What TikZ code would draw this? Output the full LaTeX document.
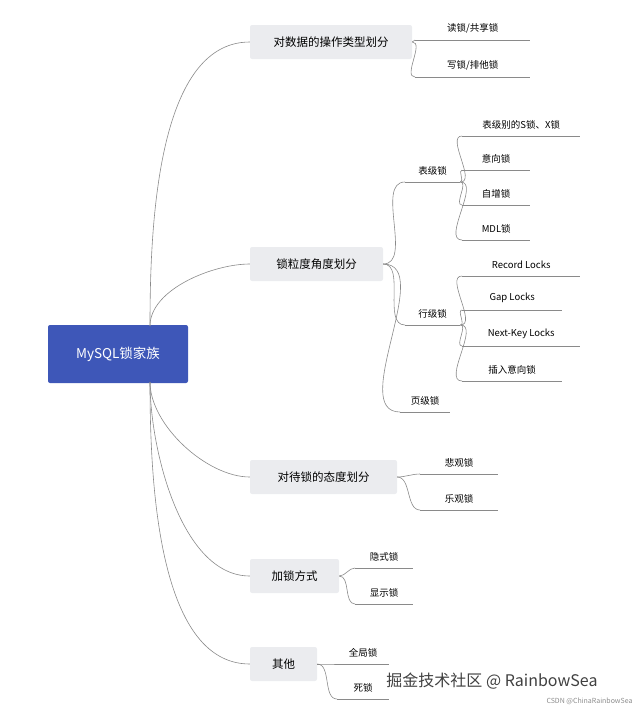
\documentclass[tikz,border=0pt]{standalone}
\usepackage{fontspec}
\setmainfont{Noto Sans CJK SC}
\usetikzlibrary{positioning}
\definecolor{rootblue}{HTML}{3E57B8}
\definecolor{boxgray}{HTML}{EBECEF}
\definecolor{linegray}{HTML}{8A8A8A}
\tikzset{
  root/.style={rounded corners=2pt, fill=rootblue, text=white, minimum width=140pt, minimum height=58pt, font=\fontsize{13.5}{15}\selectfont},
  topic/.style={rounded corners=2pt, fill=boxgray, minimum height=34pt, font=\fontsize{11.5}{13}\selectfont},
  leaf/.style={anchor=south west, inner xsep=1.5pt, inner ysep=7pt, font=\fontsize{9.5}{11}\selectfont,
    append after command={(\tikzlastnode.south west) edge[link] (\tikzlastnode.south east)}},
  link/.style={draw=linegray, line width=0.6pt},
}
\newcommand{\branch}[2]{\draw[link] (#1) to[out=0,in=180,looseness=0.9] (#2);}
\begin{document}
\begin{tikzpicture}[x=1pt,y=-1pt]
  \useasboundingbox (0,0) rectangle (642,710);
  \node[root] (mysql) at (118,354) {MySQL锁家族};
  \coordinate (up) at (150,326);
  \coordinate (down) at (150,382);

  % first level
  \node[topic, minimum width=162pt] (ops) at (331,42) {对数据的操作类型划分};
  \node[topic, minimum width=133pt] (gran) at (316.5,264) {锁粒度角度划分};
  \node[topic, minimum width=147pt] (attit) at (323.5,477) {对待锁的态度划分};
  \node[topic, minimum width=89pt] (mode) at (294.5,576) {加锁方式};
  \node[topic, minimum width=67pt] (other) at (283.5,664) {其他};

  \foreach \t in {ops,gran}
    \draw[link] (up) to[out=90,in=180,looseness=0.8] (\t.west);
  \foreach \t in {attit,mode,other}
    \draw[link] (down) to[out=-90,in=180,looseness=0.8] (\t.west);

  % data operation
  \node[leaf, minimum width=115pt] (read) at (415,40) {读锁/共享锁};
  \node[leaf, minimum width=115pt] (write) at (415,77) {写锁/排他锁};
  \branch{ops.east}{read.south west}
  \branch{ops.east}{write.south west}

  % granularity
  \node[leaf, minimum width=55pt] (table) at (405,182) {表级锁};
  \node[leaf, minimum width=55pt] (row) at (405,325) {行级锁};
  \node[leaf, minimum width=50pt] (page) at (400,412) {页级锁};
  \foreach \c in {table,row,page}
    {\branch{gran.east}{\c.south west}}

  \node[leaf, minimum width=118pt] (sx) at (462,136) {表级别的S锁、X锁};
  \node[leaf, minimum width=68pt] (intent) at (462,170) {意向锁};
  \node[leaf, minimum width=68pt] (autoinc) at (462,205) {自增锁};
  \node[leaf, minimum width=68pt] (mdl) at (462,240) {MDL锁};
  \foreach \c in {sx,intent,autoinc,mdl}
    {\branch{table.south east}{\c.south west}}

  \node[leaf, minimum width=118pt] (record) at (462,276) {Record Locks};
  \node[leaf, minimum width=100pt] (gap) at (462,310) {Gap Locks};
  \node[leaf, minimum width=118pt] (nextkey) at (462,346) {Next-Key Locks};
  \node[leaf, minimum width=100pt] (insint) at (462,381) {插入意向锁};
  \foreach \c in {record,gap,nextkey,insint}
    {\branch{row.south east}{\c.south west}}

  % attitude
  \node[leaf, minimum width=78pt] (pess) at (420,474) {悲观锁};
  \node[leaf, minimum width=78pt] (opt) at (420,510) {乐观锁};
  \branch{attit.east}{pess.south west}
  \branch{attit.east}{opt.south west}

  % locking mode
  \node[leaf, minimum width=58pt] (implicit) at (355,568) {隐式锁};
  \node[leaf, minimum width=58pt] (explicit) at (355,604) {显示锁};
  \branch{mode.east}{implicit.south west}
  \branch{mode.east}{explicit.south west}

  % other
  \node[leaf, minimum width=52pt] (global) at (337,664) {全局锁};
  \node[leaf, minimum width=52pt] (dead) at (337,699) {死锁};
  \branch{other.east}{global.south west}
  \branch{other.east}{dead.south west}

  % watermark
  \node[font=\fontsize{16}{18}\selectfont, text=black!75] (wm) at (492,681) {掘金技术社区 @ RainbowSea};
  \node[font=\fontsize{7}{8}\selectfont, text=black!45, anchor=east] (csdn) at (636,701) {CSDN @ChinaRainbowSea};
\end{tikzpicture}
\end{document}
